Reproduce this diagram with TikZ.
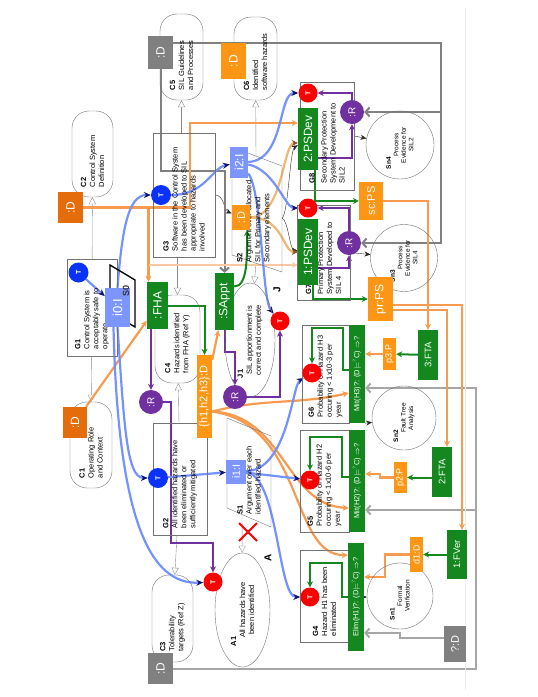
\documentclass[tikz,border=0pt]{standalone}
\usepackage{fontspec}
\setmainfont{Liberation Sans}
\usepackage{graphicx}
\usetikzlibrary{arrows.meta,shapes.geometric,shapes.misc,calc}

\definecolor{ggreen}{RGB}{20,135,30}
\definecolor{lorange}{RGB}{253,150,20}
\definecolor{dorange}{RGB}{228,108,10}
\definecolor{lnorange}{RGB}{247,155,80}
\definecolor{peach}{RGB}{250,200,160}
\definecolor{tanl}{RGB}{235,185,115}
\definecolor{rpurple}{RGB}{112,48,160}
\definecolor{tblue}{RGB}{10,50,250}
\definecolor{iblue}{RGB}{125,150,255}
\definecolor{lblue}{RGB}{115,145,255}
\definecolor{navy}{RGB}{15,20,110}
\definecolor{tred}{RGB}{250,0,0}
\definecolor{dgray}{RGB}{128,128,128}

\pgfdeclarelayer{edges}
\pgfsetlayers{edges,main}

\newcommand{\rtext}[2]{\rotatebox{90}{\parbox{#1}{\raggedright #2}}}
\newcommand{\rcent}[2]{\rotatebox{90}{\parbox{#1}{\centering #2}}}
\newcommand{\rline}[1]{\rotatebox{90}{#1}}

\begin{document}
\begin{tikzpicture}[x=1pt, y=-1pt, font=\fontsize{7.5}{9}\selectfont,
  gsn/.style={draw=black!55, thin, inner sep=2pt},
  ctxt/.style={gsn, rounded corners=17pt},
  asm/.style={gsn, ellipse, inner sep=0pt},
  sol/.style={gsn, circle, inner sep=0pt, font=\fontsize{6.5}{7.5}\selectfont},
  tok/.style={inner sep=0pt, text=white},
  grbox/.style={tok, fill=ggreen},
  orbox/.style={tok, fill=lorange},
  dobox/.style={tok, fill=dorange},
  gybox/.style={tok, fill=dgray},
  ibox/.style={tok, fill=iblue},
  tblu/.style={tok, circle, fill=tblue, minimum size=20, font=\bfseries\fontsize{7}{7}\selectfont},
  tredc/.style={tok, circle, fill=tred, minimum size=19, font=\bfseries\fontsize{7}{7}\selectfont},
  rcirc/.style={tok, circle, fill=rpurple, minimum size=24, font=\fontsize{10}{10}\selectfont},
  big/.style={font=\fontsize{12}{12}\selectfont},
  mid/.style={font=\fontsize{9.5}{9.5}\selectfont},
  sml/.style={font=\fontsize{9}{9}\selectfont},
  ctx/.style={draw=black!45, thin, -{Triangle[open, fill=white, length=7pt, width=7pt]}},
  solv/.style={draw=black!85, thin, -{Stealth[length=6pt, width=5pt]}},
  bln/.style={draw=lblue, line width=2.2pt, -{Stealth[length=7pt, width=6pt, color=navy]}},
  orl/.style={draw=lnorange, line width=2.2pt, -{Stealth[length=6pt, width=6pt]}},
  orp/.style={draw=peach, line width=2.2pt, -{Stealth[length=6pt, width=6pt]}},
  ort/.style={draw=tanl, line width=2.2pt, -{Stealth[length=6pt, width=6pt, color=brown!70!black]}},
  grl/.style={draw=ggreen, line width=2pt, -{Stealth[length=6pt, width=6pt]}},
  prl/.style={draw=rpurple, line width=2pt, -{Stealth[length=6pt, width=6pt]}},
  dft/.style={draw=dgray, line width=2pt, -{Straight Barb[length=4pt, width=9pt]}},
  dft2/.style={draw=black!35, line width=2pt, -{Straight Barb[length=4pt, width=9pt]}}]
\useasboundingbox (0,0) rectangle (538,697);
\draw[black!7] (465,8) -- (465,690);

% context
\node[ctxt, minimum width=41, minimum height=86] (C2) at (92.5,154) {\rtext{66pt}{\textbf{C2}\\Control System\\Definition}};
\node[ctxt, minimum width=42, minimum height=86] (C1) at (91,445) {\rtext{66pt}{\textbf{C1}\\Operating Role\\and Context}};
\node[ctxt, minimum width=41, minimum height=87] (C3) at (172.5,618.5) {\rtext{66pt}{\textbf{C3}\\Tolerability\\targets (Ref Z)}};
\node[ctxt, minimum width=45, minimum height=88] (C4) at (177.5,339) {\rtext{68pt}{\textbf{C4}\\Hazards identified\\from FHA (Ref Y)}};
\node[ctxt, minimum width=43, minimum height=86] (C5) at (181.5,57) {\rtext{66pt}{\textbf{C5}\\SIL Guidelines\\and Processes}};
\node[ctxt, minimum width=43, minimum height=83] (C6) at (255.5,58.5) {\rtext{64pt}{\textbf{C6}\\Identified\\software hazards}};

% goals
\node[gsn, minimum width=50, minimum height=97] (G1) at (92,307.5) {\rtext{83pt}{\textbf{G1}\\Control System is\\acceptably safe to\\operate}};
\node[gsn, minimum width=54, minimum height=112] (G2) at (180,479) {\rtext{98pt}{\textbf{G2}\\All identified hazards have\\been eliminated or\\sufficiently mitigated}};
\node[gsn, minimum width=62, minimum height=124] (G3) at (184,195) {\rtext{112pt}{\textbf{G3}\\Software in the Control System\\has been developed to SIL\\appropriate to hazards\\involved}};
\node[gsn, minimum width=49, minimum height=92] (G4) at (324.5,596) {\rtext{80pt}{\textbf{G4}\\Hazard H1 has been\\eliminated}};
\node[gsn, minimum width=49, minimum height=102] (G5) at (324.5,481) {\rtext{90pt}{\textbf{G5}\\Probability of Hazard H2\\occuring < 1x10-6 per\\year}};
\node[gsn, minimum width=47, minimum height=98] (G6) at (325.5,374) {\rtext{86pt}{\textbf{G6}\\Probability of Hazard H3\\occuring < 1x10-3 per\\year}};
\node[gsn, minimum width=53, minimum height=95] (G7) at (323.5,252.5) {\rtext{83pt}{\textbf{G7}\\[3pt]Primary Protection\\System Developed to\\SIL 4}};
\node[gsn, minimum width=54, minimum height=108] (G8) at (327,136) {\rtext{94pt}{\textbf{G8}\\[3pt]Secondary Protection\\System Development to\\SIL2}};

% strategies
\draw[line width=1.3pt] (110,265) -- (135,280) -- (135,327) -- (110,312) -- cycle;
\draw[gsn] (227,418) -- (271,436) -- (271,527) -- (227,508) -- cycle;
\draw[gsn] (232,147) -- (282,166) -- (282,272) -- (232,255) -- cycle;
\node (S1) at (249,472) {\rtext{84pt}{\textbf{S1}\\Argument over each\\identified hazard}};
\node (S2) at (254,212) {\rtext{100pt}{\textbf{S2}\\Argument over allocated\\SIL for Primary and\\Secondary elements}};
\coordinate (s2top) at (256,157);
\coordinate (s2bot) at (256,263);
\coordinate (s2r) at (282,218);
\coordinate (s1bot) at (242,514);

% assumption, justification, solutions
\node[asm, minimum width=55, minimum height=114] (A1) at (242.5,610) {\rcent{72pt}{{\raggedright\textbf{A1}\par}All hazards have\\been identified}};
\node[asm, minimum width=50, minimum height=114] (J1) at (250,340) {\rcent{76pt}{{\raggedright\textbf{J1}\par}SIL apportionment is\\correct and complete}};
\node[font=\bfseries] (Jlab) at (277,290) {\rline{J}};
\node[font=\bfseries] (Alab) at (268,558) {\rline{A}};
\node[sol, minimum size=66] (Sn1) at (400,596) {\rcent{48pt}{{\raggedright\textbf{Sn1}\par}Formal\\Verification}};
\node[sol, minimum size=64] (Sn2) at (404,418) {\rcent{48pt}{{\raggedright\textbf{Sn2}\par}Fault Tree\\Analysis}};
\node[sol, minimum size=67] (Sn3) at (404,258) {\rcent{48pt}{{\raggedright\textbf{Sn3}\par}Process\\Evidence for\\SIL4}};
\node[sol, minimum size=68] (Sn4) at (400,145) {\rcent{48pt}{{\raggedright\textbf{Sn4}\par}Process\\Evidence for\\SIL2}};

% defeaters
\node[gybox, big, minimum width=25, minimum height=33] (topD) at (160.5,52.5) {\rline{:D}};
\node[gybox, big, minimum width=25, minimum height=31] (botD) at (160.5,668.5) {\rline{:D}};
\node[gybox, font=\fontsize{11}{11}\selectfont, minimum width=22, minimum height=36] (qD) at (455,644) {\rline{?:D}};
\node[dobox, big, minimum width=25, minimum height=31] (DC2) at (70.5,207.5) {\rline{:D}};
\node[dobox, big, minimum width=24, minimum height=31] (DC1) at (75,422.5) {\rline{:D}};
\node[orbox, big, minimum width=25, minimum height=36] (DC6) at (233.5,61) {\rline{:D}};
\node[orbox, font=\fontsize{11}{11}\selectfont, minimum width=18, minimum height=25] (DS2) at (241,217.5) {\rline{:D}};
\node[orbox, font=\fontsize{11}{11}\selectfont, minimum width=15, minimum height=83] (HD) at (204.5,396.5) {\rline{\{h1,h2,h3\}:D}};
\node[orbox, font=\fontsize{11}{11}\selectfont, minimum width=24, minimum height=38] (scPS) at (371,201) {\rline{sc:PS}};
\node[orbox, big, minimum width=25, minimum height=44] (prPS) at (380.5,299) {\rline{pr:PS}};
\node[orbox, sml, minimum width=13, minimum height=32] (p3) at (389.5,354) {\rline{p3:P}};
\node[orbox, sml, minimum width=13, minimum height=31] (p2) at (400.5,477.5) {\rline{p2:P}};
\node[orbox, sml, minimum width=13, minimum height=35] (d1) at (416.5,554.5) {\rline{d1:D}};

% actions
\node[grbox, big, minimum width=21, minimum height=47] (FHA) at (157.5,305.5) {\rline{:FHA}};
\node[grbox, big, minimum width=19, minimum height=57] (SAppt) at (224.5,301.5) {\rline{:SAppt}};
\node[grbox, big, minimum width=20, minimum height=66] (PS1) at (308,252) {\rline{1:PSDev}};
\node[grbox, big, minimum width=20, minimum height=62] (PS2) at (308,139) {\rline{2:PSDev}};
\node[grbox, mid, minimum width=20, minimum height=50] (FTA3) at (428,355) {\rline{3:FTA}};
\node[grbox, mid, minimum width=20, minimum height=50] (FTA2) at (442,472) {\rline{2:FTA}};
\node[grbox, mid, minimum width=20, minimum height=49] (FVer1) at (457,554.5) {\rline{1:FVer}};
\node[grbox, minimum width=16, minimum height=98] (Mit3) at (357,374) {\rline{Mit(H3)?: (D$\models^{?}$C) $\Rightarrow$?}};
\node[grbox, minimum width=16, minimum height=102] (Mit2) at (357,481) {\rline{Mit(H2)?: (D$\models^{?}$C) $\Rightarrow$?}};
\node[grbox, minimum width=16, minimum height=108] (Elim1) at (356,597) {\rline{Elim(H1)?: (D$\models^{?}$C) $\Rightarrow$?}};

% inferences
\node[ibox, font=\fontsize{13}{13}\selectfont, minimum width=25, minimum height=39] (i0) at (117.5,307.5) {\rline{i0:I}};
\node[font=\bfseries\fontsize{9}{9}\selectfont, text=black!80] (S0) at (126,291) {\rline{S0}};
\node[ibox, font=\fontsize{10.5}{10.5}\selectfont, minimum width=20, minimum height=24] (i1) at (236,471.5) {\rline{i1:I}};
\node[ibox, big, minimum width=18, minimum height=31] (i2) at (239,162.5) {\rline{i2:I}};

% trust and result markers
\node[tblu] (T1) at (78.5,272.5) {\rline{T}};
\node[tblu] (T3) at (161,195) {\rline{T}};
\node[tblu] (T2) at (158,478) {\rline{T}};
\node[tredc] (T8) at (308,93) {\rline{T}};
\node[tredc] (T7) at (308,208) {\rline{T}};
\node[tredc] (TJ) at (280,321) {\rline{T}};
\node[tredc] (T6) at (312,373) {\rline{T}};
\node[tredc] (T5) at (310,480) {\rline{T}};
\node[tredc] (T4) at (310,597) {\rline{T}};
\node[tredc] (TA) at (213,582) {\rline{T}};
\node[rcirc] (RF) at (151,402) {\rline{:R}};
\node[rcirc] (RS) at (235,397) {\rline{:R}};
\node[rcirc] (R8) at (352,112) {\rline{:R}};
\node[rcirc] (R7) at (349,243) {\rline{:R}};
\node[cross out, draw=tred, line width=2pt, minimum size=16] (X) at (248,532) {};

\coordinate (gcorner) at (441,42.5);
\coordinate (bcorner) at (476,668.5);
\coordinate (m3in) at ($(Mit3.east)+(0,14)$);
\coordinate (m2in) at ($(Mit2.east)+(0,29)$);
\coordinate (dsplit) at (148.5,265);
\coordinate (hdout) at ($(HD.east)+(0,15)$);

\begin{pgfonlayer}{edges}
% in context of
\draw[ctx] (G1) -- (C2);
\draw[ctx] (G1) -- (C1);
\draw[ctx] (G2) -- (C4);
\draw[ctx] (G3.south -| C4) -- (C4);
\draw[ctx] (G3.north -| C5) -- (C5);
\draw[ctx] (G2) -- (C3);
\draw[ctx] (s2top) -- (C6);
\draw[ctx] (s2bot) -- (J1);
\draw[ctx] (s1bot) -- (A1);
% supported by
\draw[solv] (G3.east) .. controls (224,195) and (224,210) .. (DS2);
\draw[solv] (s2r) .. controls (288,215) and (290,150) .. (PS2);
\draw[solv] (s2r) .. controls (288,220) and (290,250) .. (PS1);
\draw[solv] (G8.east) -- (Sn4);
\draw[solv] (G7.east) -- (Sn3);
\draw[solv] (Mit3.south east) -- (Sn2);
\draw[solv] (Elim1.east) -- (Sn1);
% defeaters
\draw[dft] (topD.south) -- ++(0,102) -| (SAppt.north);
\draw[dft] ($(topD.east)+(0,-10)$) -- (gcorner) -- (gcorner |- R7) -- (R7);
\draw[dft] (gcorner |- R8) -- (R8);
\draw[dft2] (botD.east) -- (bcorner) -- (bcorner |- m3in) -- (m3in);
\draw[dft2] (bcorner |- m2in) -- (m2in);
\draw[dft2] ($(qD.west)+(0,-6)$) -- ++(-44,0) |- ($(Elim1.east)+(0,36)$);
% orange
\draw[orl] (DC2.east) -| ($(FHA.north)+(-9,0)$);
\draw[orl] (DC2.east) -- ++(107,0) |- ($(PS2.west)+(0,-16)$);
\draw[orp] (dsplit) -- ($(PS1.west)+(0,13)$);
\draw[orl] (DC1) -- (FHA);
\draw[orl] (HD) -- (SAppt);
\draw[orl] (hdout) .. controls (265,398) and (295,405) .. ($(Mit3.west)+(0,19)$);
\draw[orl] (hdout) .. controls (285,415) and (285,505) .. ($(Mit2.west)+(0,27)$);
\draw[orl] (hdout) .. controls (305,425) and (290,556) .. ($(Elim1.west)+(0,-42)$);
\draw[ort] (DS2.east) .. controls (283,217) and (283,143) .. ($(PS2.west)+(0,4)$);
\draw[ort] (DS2.east) .. controls (283,217) and (283,252) .. (PS1.west);
\draw[orl] (scPS.east) -| (FTA3.north);
\draw[orl] ($(prPS.east)+(0,11)$) -| ($(FTA2.north)+(5,0)$);
\draw[orl] ($(prPS.east)+(0,6)$) -| ($(FVer1.north)+(5,0)$);
\draw[orl] (p3.west) -- (Mit3.east |- p3.west);
\draw[orl] (p2.west) -- ++(-14,0) |- ($(Mit2.east)+(0,-7)$);
\draw[orl] (d1.west) -- ++(-25,0) |- ($(Elim1.east)+(0,-20)$);
% green
\draw[grl] (FHA.east) -| (HD.north);
\draw[grl] ($(SAppt.east)+(0,-15)$) .. controls (248,287) and (247,255) .. ($(DS2.south)+(6,0)$);
\draw[grl] ($(PS2.south)+(7,0)$) |- (scPS.west);
\draw[grl] ($(PS1.south)+(5,0)$) |- (prPS.west);
\draw[grl] (FTA3) -- (p3);
\draw[grl] (FTA2.west |- p2) -- (p2);
\draw[grl] (FVer1) -- (d1);
\draw[grl] ($(Mit3.west)+(0,-4)$) -- ++(-6,0) -- ++(0,-42) -| (T6.north);
\draw[grl] ($(Mit2.west)+(0,-4)$) -- ++(-7,0) -- ++(0,-40) -| (T5.north);
\draw[grl] (Elim1.west) -- ++(-6,0) -- ++(0,-34) -| (T4.north);
% purple
\draw[prl] (FHA.south -| RF) -- (RF);
\draw[prl] (RF.east) -- ++(8,0) -- ++(0,141) -| (TA.north);
\draw[prl] (SAppt.south) -- ++(0,22) -| (RS.north);
\draw[prl] (RS.east) -| (TJ.south);
\draw[prl] ($(PS2.east)+(0,19)$) -| (R8.south);
\draw[prl] (R8.north) |- (T8.east);
\draw[prl] ($(PS1.east)+(0,16)$) -| (R7.south);
\draw[prl] (R7.north) |- (T7.east);
% blue
\draw[bln] (T1) -- (i0);
\draw[bln] (i0.north) .. controls (122,230) and (128,195) .. (T3);
\draw[bln] (i0.south) .. controls (124,420) and (126,478) .. (T2);
\draw[bln] ([xshift=-4pt]i0.south) .. controls (118,520) and (150,585) .. (TA);
\draw[bln] (T3) .. controls (205,195) and (212,168) .. (i2);
\draw[bln] (i2) .. controls (285,160) and (278,93) .. (T8);
\draw[bln] (i2) .. controls (275,170) and (285,208) .. (T7);
\draw[bln] (i2) .. controls (262,190) and (262,300) .. (TJ);
\draw[bln] (T2) -- (i1);
\draw[bln] (i1) -- (T5);
\draw[bln] (i1) .. controls (278,475) and (278,597) .. (T4);
\draw[bln] (i1) .. controls (288,470) and (292,385) .. (T6);
\end{pgfonlayer}
\end{tikzpicture}
\end{document}
